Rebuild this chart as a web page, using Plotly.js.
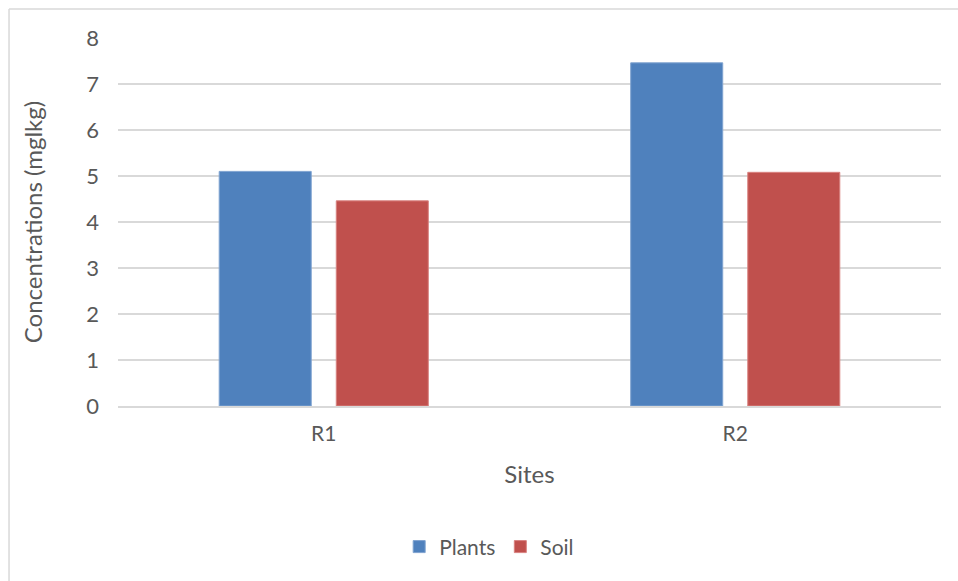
<!DOCTYPE html>
<html>
<head>
<meta charset="utf-8">
<script src="https://cdn.plot.ly/plotly-3.0.1.min.js"></script>
<style>
html, body { margin: 0; padding: 0; background: #ffffff; }
#chart { width: 958px; height: 581px; }
</style>
</head>
<body>
<div id="chart"></div>
<script>
const sites = ["R1", "R2"];
const plants = [5.1, 7.46];
const soil = [4.46, 5.08];
const seriesNames = ["Plants", "Soil"];
const yTicks = [0, 1, 2, 3, 4, 5, 6, 7, 8];

const fontFamily = "Lato, 'Open Sans', 'Liberation Sans', sans-serif";
const textColor = "#595959";

const traces = [
  {
    type: "bar",
    name: seriesNames[0],
    x: sites,
    y: plants,
    marker: { color: "#4f81bd", line: { color: "#7fa3d0", width: 1 } },
    hoverinfo: "x+y+name"
  },
  {
    type: "bar",
    name: seriesNames[1],
    x: sites,
    y: soil,
    marker: { color: "#c0504d", line: { color: "#d98280", width: 1 } },
    hoverinfo: "x+y+name"
  }
];

const layout = {
  width: 958,
  height: 581,
  margin: { l: 118, r: 17, t: 38, b: 175 },
  paper_bgcolor: "#ffffff",
  plot_bgcolor: "#ffffff",
  font: { family: fontFamily, color: textColor, size: 20 },
  barmode: "group",
  bargap: 0.431,
  bargroupgap: 0.214,
  showlegend: true,
  legend: {
    orientation: "h",
    x: 0.451,
    xanchor: "center",
    y: -0.383,
    yanchor: "middle",
    font: { family: fontFamily, size: 21, color: textColor },
    itemwidth: 30,
    tracegroupgap: 0
  },
  xaxis: {
    type: "category",
    showgrid: false,
    showline: true,
    linecolor: "#d9d9d9",
    linewidth: 2,
    ticks: "",
    tickfont: { family: fontFamily, size: 21, color: textColor },
    ticklabelstandoff: 8,
    title: { text: "Sites", font: { family: fontFamily, size: 24, color: textColor }, standoff: 22 }
  },
  yaxis: {
    range: [0, 8],
    tickvals: yTicks,
    ticktext: yTicks.map(String),
    showgrid: true,
    gridcolor: "#d9d9d9",
    gridwidth: 1.5,
    zeroline: false,
    showline: false,
    ticks: "",
    tickfont: { family: fontFamily, size: 22, color: textColor },
    ticklabelstandoff: 18,
    title: { text: "Concentrations (mglkg)", font: { family: fontFamily, size: 24, color: textColor }, standoff: 36 }
  },
  shapes: [
    { type: "line", xref: "paper", yref: "paper", x0: -0.1324, x1: 1.0207, y0: 1.0788, y1: 1.0788, line: { color: "#d9d9d9", width: 1.5 } },
    { type: "line", xref: "paper", yref: "paper", x0: -0.1324, x1: -0.1324, y0: 1.0788, y1: -0.4755, line: { color: "#d9d9d9", width: 1.5 } }
  ]
};

Plotly.newPlot("chart", traces, layout, { displayModeBar: false, staticPlot: true });
</script>
</body>
</html>
